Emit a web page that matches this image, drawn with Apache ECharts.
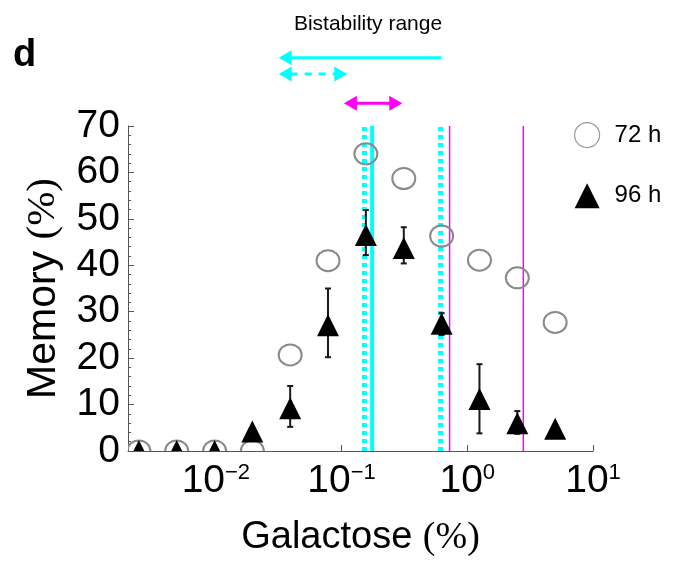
<!DOCTYPE html>
<html>
<head>
<meta charset="utf-8">
<title>Memory vs galactose</title>
<script src="https://cdn.jsdelivr.net/npm/echarts@6/dist/echarts.min.js"></script>
<style>
  html, body { margin: 0; padding: 0; background: #fff; }
  #main { width: 674px; height: 563px; }
</style>
</head>
<body>
<div id="main"></div>
<script>
// galactose (%), two-fold dilutions down from 5 %
const galactose = [0.00244, 0.00488, 0.00977, 0.0195, 0.039, 0.078, 0.156, 0.3125, 0.625, 1.25, 2.5, 5];
// memory (%) after 72 h and 96 h
const memory72 = [0, 0, 0, 0, 20.7, 41.0, 64.0, 58.7, 46.3, 41.1, 37.3, 27.7];
const memory96 = [0, 0, 0, 4.2, 9.2, 27.1, 46.5, 43.7, 27.4, 11.2, 6.0, 4.8];
// 96 h error bars (null = none drawn)
const err96Low = [null, null, null, null, 5.2, 20.2, 42.2, 40.4, 25.0, 3.8, 3.7, null];
const err96High = [null, null, null, null, 14.0, 35.0, 51.9, 48.2, 29.7, 18.7, 8.6, null];

// vertical threshold lines (galactose %)
const vlineX = [0.152, 0.175, 0.613, 0.723, 2.79];
const vlineKind = ['cyanDot', 'cyan', 'cyanDot', 'magenta', 'magenta'];

// bistability arrows above the plot: x range in galactose %, height in memory units
const arrowLeft = [0.0316, 0.0316, 0.1043];
const arrowRight = [0.621, 0.111, 0.304];
const arrowLevel = [84.7, 81.2, 74.9];
const arrowHeads = ['left', 'both', 'both'];

const yMin = 0, yMax = 70;
const sans = "'Liberation Sans', Arial, Helvetica, sans-serif";
const serif = "'Liberation Serif', 'Times New Roman', serif";

const lineLook = {
  cyanDot: { stroke: '#00ffff', lineWidth: 5, lineDash: [4, 4] },
  cyan: { stroke: '#00ffff', lineWidth: 4 },
  magenta: { stroke: '#ff00ff', lineWidth: 1.5 }
};
const arrowLook = [
  { color: '#00ffff' },
  { color: '#00ffff', dash: [7, 7] },
  { color: '#ff00ff' }
];

const chart = echarts.init(document.getElementById('main'));

function supLabel(v) {
  const e = Math.round(Math.log10(v));
  if (Math.abs(Math.log10(v) - e) > 1e-6) return '';
  return '{b|10}{s|' + (e < 0 ? '\u2212' + (-e) : e) + '}';
}

function renderVline(params, api) {
  const x = api.value(0);
  const p0 = api.coord([x, api.value(1)]);
  const p1 = api.coord([x, api.value(2)]);
  const look = lineLook[vlineKind[params.dataIndex]];
  return {
    type: 'line',
    shape: { x1: p0[0], y1: p0[1], x2: p1[0], y2: p1[1] },
    style: Object.assign({ fill: null }, look)
  };
}

function renderErrorBar(params, api) {
  const x = api.value(0);
  const lo = api.coord([x, api.value(1)]);
  const hi = api.coord([x, api.value(2)]);
  const cap = 3;
  const st = { stroke: '#1a1a1a', lineWidth: 2 };
  return {
    type: 'group',
    children: [
      { type: 'line', shape: { x1: lo[0], y1: lo[1], x2: hi[0], y2: hi[1] }, style: st },
      { type: 'line', shape: { x1: lo[0] - cap, y1: lo[1], x2: lo[0] + cap, y2: lo[1] }, style: st },
      { type: 'line', shape: { x1: hi[0] - cap, y1: hi[1], x2: hi[0] + cap, y2: hi[1] }, style: st }
    ]
  };
}

function renderCircle(params, api) {
  const p = api.coord([api.value(0), api.value(1)]);
  return {
    type: 'ellipse',
    shape: { cx: p[0], cy: p[1], rx: 11.5, ry: 10.5 },
    style: { fill: null, stroke: '#8a8a8a', lineWidth: 2 }
  };
}

function renderTriangle(params, api) {
  const p = api.coord([api.value(0), api.value(1)]);
  const h = 11;
  return {
    type: 'polygon',
    shape: { points: [[p[0], p[1] - h], [p[0] + h, p[1] + h], [p[0] - h, p[1] + h]] },
    style: { fill: '#000' }
  };
}

function renderArrow(params, api) {
  const i = params.dataIndex;
  const a = api.coord([api.value(0), api.value(2)]);
  const b = api.coord([api.value(1), api.value(2)]);
  const look = arrowLook[i];
  const heads = arrowHeads[i];
  const len = 13, half = 7.5;
  const y = a[1];
  const leftHead = heads === 'left' || heads === 'both';
  const rightHead = heads === 'right' || heads === 'both';
  const children = [{
    type: 'line',
    shape: { x1: leftHead ? a[0] + len - 1 : a[0], y1: y, x2: rightHead ? b[0] - len + 1 : b[0], y2: y },
    style: { stroke: look.color, lineWidth: 3, lineDash: look.dash }
  }];
  if (leftHead) {
    children.push({ type: 'polygon', shape: { points: [[a[0], y], [a[0] + len, y - half], [a[0] + len, y + half]] }, style: { fill: look.color } });
  }
  if (rightHead) {
    children.push({ type: 'polygon', shape: { points: [[b[0], y], [b[0] - len, y - half], [b[0] - len, y + half]] }, style: { fill: look.color } });
  }
  return { type: 'group', children: children };
}

const errData = [];
galactose.forEach((g, i) => {
  if (err96Low[i] != null) errData.push([g, err96Low[i], err96High[i]]);
});

const option = {
  animation: false,
  backgroundColor: '#fff',
  grid: { left: 128, right: 81, top: 126, bottom: 112, outerBoundsMode: 'none' },
  graphic: [
    { type: 'text', left: 13, top: 37, style: { text: 'd', font: 'bold 38px ' + sans, fill: '#000' } },
    { type: 'text', x: 368, y: 24, style: { text: 'Bistability range', font: '21px ' + sans, fill: '#000', textAlign: 'center', textVerticalAlign: 'middle' } }
  ],
  legend: {
    orient: 'vertical',
    left: 569,
    top: 117,
    itemWidth: 25,
    itemHeight: 25,
    itemGap: 35,
    selectedMode: false,
    textStyle: { fontSize: 24, color: '#000', fontFamily: sans, padding: [0, 0, 0, 10] },
    data: [
      { name: '72 h', icon: 'circle', itemStyle: { color: 'rgba(0,0,0,0)', borderColor: '#999', borderWidth: 1.2 } },
      { name: '96 h', icon: 'triangle', itemStyle: { color: '#000', borderWidth: 0 } }
    ]
  },
  xAxis: {
    type: 'log',
    logBase: 10,
    min: 0.002,
    max: 10,
    name: '{m|Galactose }{p|(%)}',
    nameLocation: 'middle',
    nameGap: 68,
    nameTextStyle: {
      rich: {
        m: { fontSize: 38, fontFamily: sans, color: '#000' },
        p: { fontSize: 38, fontFamily: serif, color: '#000' }
      }
    },
    axisLine: { lineStyle: { color: '#555', width: 1 } },
    axisTick: { inside: true, length: 6, lineStyle: { color: '#555' } },
    splitLine: { show: false },
    axisLabel: {
      margin: 11,
      showMinLabel: false,
      formatter: supLabel,
      rich: {
        b: { fontSize: 39, fontFamily: sans, color: '#000' },
        s: { fontSize: 22, fontFamily: sans, color: '#000', verticalAlign: 'top' }
      }
    }
  },
  yAxis: {
    type: 'value',
    min: yMin,
    max: yMax,
    interval: 10,
    name: '{m|Memory }{p|(%)}',
    nameLocation: 'middle',
    nameRotate: 90,
    nameGap: 64,
    nameTextStyle: {
      rich: {
        m: { fontSize: 41, fontFamily: sans, color: '#000' },
        p: { fontSize: 41, fontFamily: serif, color: '#000' }
      }
    },
    axisLine: { show: true, lineStyle: { color: '#555', width: 1 } },
    axisTick: { show: true, inside: true, length: 6, lineStyle: { color: '#555' } },
    minorTick: { show: true, splitNumber: 5, length: 3, lineStyle: { color: '#555' } },
    splitLine: { show: false },
    axisLabel: { fontSize: 39, fontFamily: sans, color: '#000', margin: 8 }
  },
  series: [
    {
      type: 'custom',
      name: 'thresholds',
      silent: true,
      z: 1,
      encode: { x: 0, y: [1, 2] },
      data: vlineX.map(x => [x, yMin, yMax]),
      renderItem: renderVline
    },
    {
      type: 'custom',
      name: 'arrows',
      silent: true,
      clip: false,
      z: 1,
      encode: { x: [0, 1], y: 2 },
      data: arrowLeft.map((x, i) => [x, arrowRight[i], arrowLevel[i]]),
      renderItem: renderArrow
    },
    {
      type: 'custom',
      name: 'err96',
      silent: true,
      z: 2,
      encode: { x: 0, y: [1, 2] },
      data: errData,
      renderItem: renderErrorBar
    },
    {
      type: 'custom',
      name: '72 h',
      clip: true,
      z: 3,
      encode: { x: 0, y: 1 },
      data: galactose.map((g, i) => [g, memory72[i]]),
      renderItem: renderCircle
    },
    {
      type: 'custom',
      name: '96 h',
      clip: true,
      z: 4,
      encode: { x: 0, y: 1 },
      data: galactose.map((g, i) => [g, memory96[i]]),
      renderItem: renderTriangle
    }
  ]
};

chart.setOption(option);
</script>
</body>
</html>
